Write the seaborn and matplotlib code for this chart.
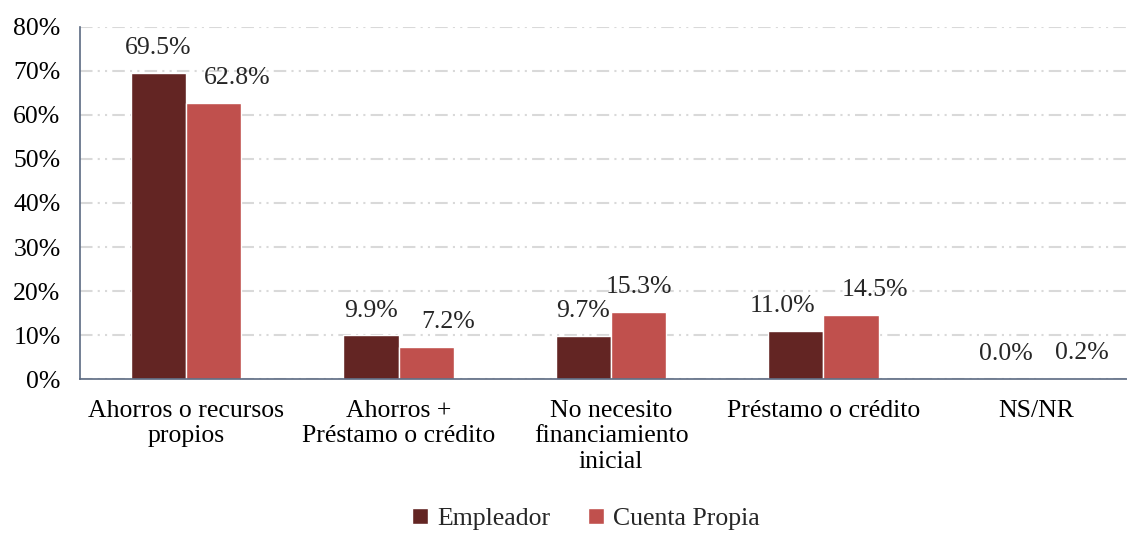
import numpy as np
import pandas as pd
import seaborn as sns
import matplotlib.pyplot as plt
from matplotlib.ticker import PercentFormatter

categories = ["Ahorros o recursos\npropios", "Ahorros +\nPréstamo o crédito",
              "No necesito\nfinanciamiento\ninicial", "Préstamo o crédito", "NS/NR"]
empleador = [69.5, 9.9, 9.7, 11.0, 0.0]
cuenta_propia = [62.8, 7.2, 15.3, 14.5, 0.2]
series = ["Empleador", "Cuenta Propia"]
colors = ["#632523", "#C0504D"]

# label nudges (pixels) as placed in the original
shift_emp = [0, 0, 0, -13, -2]
shift_cp = [23, 22, 0, 24, 18]

df = pd.DataFrame({
    "cat": categories * 2,
    "val": empleador + cuenta_propia,
    "serie": [series[0]] * 5 + [series[1]] * 5,
})

sns.set_style("white")
plt.rcParams['font.family'] = ['Liberation Serif', 'DejaVu Serif']
fs = 18.5

fig = plt.figure(figsize=(11.27, 5.35), dpi=100)
ax = fig.add_axes([80 / 1127, (535 - 379) / 535, 1062 / 1127, 352 / 535])

sns.barplot(data=df, x="cat", y="val", hue="serie", palette=colors, ax=ax,
            width=0.52, gap=0, saturation=1, legend=True)

for cont, vals, shifts in zip(ax.containers, [empleador, cuenta_propia], [shift_emp, shift_cp]):
    for bar, v, dx in zip(cont, vals, shifts):
        ax.annotate("%.1f%%" % v, (bar.get_x() + bar.get_width() / 2, bar.get_height()),
                    xytext=(dx * 0.72, 10), textcoords="offset points",
                    ha="center", va="bottom", fontsize=fs)

ax.set_ylim(0, 80)
ax.set_yticks(np.arange(0, 81, 10))
ax.yaxis.set_major_formatter(PercentFormatter(decimals=0))
ax.grid(axis="y", color="#d9d9d9", linewidth=1.5, linestyle=(0, (6, 2.5, 1, 2.5, 1, 2.5)))
ax.set_axisbelow(True)
ax.set_xlabel("")
ax.set_ylabel("")
for s in ["top", "right"]:
    ax.spines[s].set_visible(False)
for s in ["left", "bottom"]:
    ax.spines[s].set_color("#5b6a82")
    ax.spines[s].set_linewidth(1.2)
ax.tick_params(axis="both", length=0, labelsize=fs, colors="black")
ax.tick_params(axis="y", pad=14)
ax.tick_params(axis="x", pad=15)

h, l = ax.get_legend_handles_labels()
ax.get_legend().remove()
fig.legend(h, l, loc="lower center", bbox_to_anchor=(586 / 1127, -0.034),
           ncol=2, frameon=False, fontsize=fs, handlelength=0.6, handleheight=0.6,
           handletextpad=0.35, columnspacing=1.5)

fig.savefig("out.png", dpi=100)
